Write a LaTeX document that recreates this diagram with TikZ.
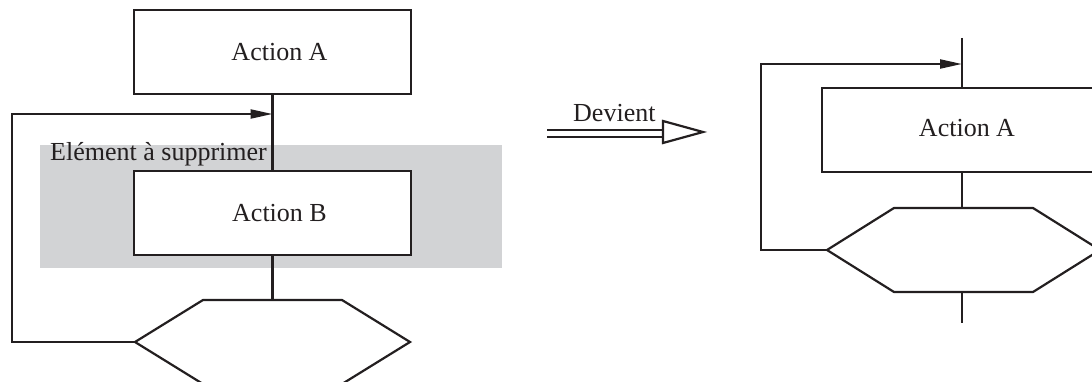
\documentclass[tikz,border=0pt]{standalone}
\usepackage{fontspec}
\setmainfont{Liberation Serif}
\usetikzlibrary{arrows.meta}
\definecolor{ink}{RGB}{35,31,32}
\definecolor{greyzone}{RGB}{210,211,213}
\begin{document}
\begin{tikzpicture}[x=1pt,y=-1pt,
  every node/.style={font=\fontsize{26}{30}\selectfont, text=ink},
  stroke/.style={draw=ink, line width=2.2pt},
  actbox/.style={stroke, fill=white, rectangle, minimum width=277pt, minimum height=84pt, inner sep=0pt},
  flow/.style={stroke, -{Triangle[length=22pt,width=9pt]}}]
\useasboundingbox (0,0) rectangle (1092,382);

% highlighted region (left)
\fill[greyzone] (40,145) rectangle (502,268);
\node[anchor=base west, inner sep=0pt] (note) at (50,161) {Elément à supprimer};

% left sequence
\node[actbox] (la) at (272.5,52) {\hspace{14pt}Action A};
\node[actbox] (lb) at (272.5,213) {\hspace{14pt}Action B};
\coordinate (lht) at (272.5,300);
\coordinate (lhl) at (135,342);
\coordinate (lhr) at (410,342);
\draw[stroke] (lhl) -- (203,300) -- (342,300) -- (lhr) -- (342,384) -- (203,384) -- cycle;
\draw[stroke] (la.south) -- (lb.north);
\draw[stroke] (lb.south) -- (lht);
\coordinate (lloop) at (12,114);
\draw[flow] (lhl) -- (12,342) -- (lloop) -- (la.south |- lloop);

% transformation arrow
\coordinate (d1) at (547,133.5);
\coordinate (d2) at (663,133.5);
\draw[draw=ink, line width=2pt, double, double distance=5.5pt] (d1) -- (d2);
\draw[stroke, fill=white] (663,121) -- (703,132) -- (663,143) -- cycle;
\node[anchor=base west, inner sep=0pt] (dev) at (573,122) {Devient};

% right sequence
\node[actbox, minimum width=280pt] (ra) at (962,130) {\hspace{10pt}\raisebox{4pt}{Action A}};
\coordinate (rtop) at (962,38);
\coordinate (rht) at (962,208);
\coordinate (rhb) at (962,292);
\coordinate (rhl) at (827,250);
\coordinate (rend) at (962,323);
\draw[stroke] (rhl) -- (894,208) -- (1033,208) -- (1100,250) -- (1033,292) -- (894,292) -- cycle;
\draw[stroke] (rtop) -- (ra.north);
\draw[stroke] (ra.south) -- (rht);
\draw[stroke] (rhb) -- (rend);
\coordinate (rloop) at (761,64);
\draw[flow] (rhl) -- (761,250) -- (rloop) -- (rtop |- rloop);
\end{tikzpicture}
\end{document}
